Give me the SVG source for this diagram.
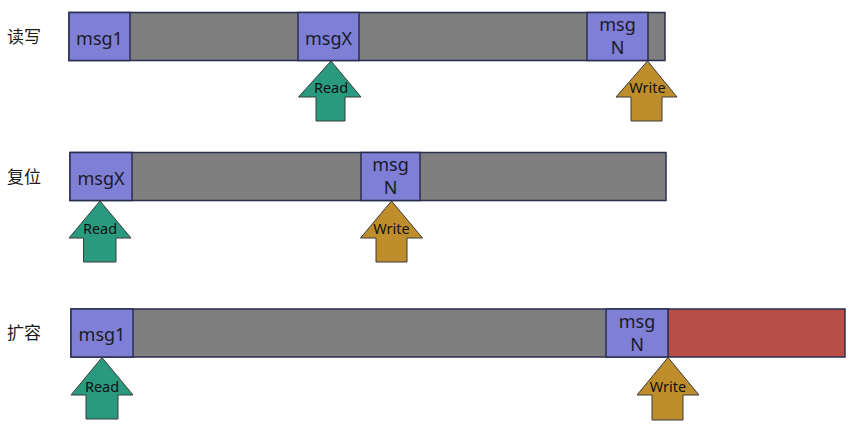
<svg xmlns="http://www.w3.org/2000/svg" width="851" height="426" viewBox="0 0 851 426">
<style>
.bg{fill:#ffffff}
.slot{stroke:#2b2f4f;stroke-width:1.5}
.msg{fill:#7f7fd6}
.gray{fill:#7f7f7f}
.red{fill:#b84e48}
.t{font-family:"Noto Sans","Open Sans","Liberation Sans",sans-serif;font-size:18px;fill:#1a1a2a;text-anchor:middle}
.lbl{font-family:"Noto Sans CJK SC","Noto Sans",sans-serif;font-size:17px;fill:#1a1a1a}
.arrow{stroke:#3a3a3a;stroke-width:1}
.read{fill:#2a9a7f}
.write{fill:#bf8e2c}
.at{font-family:"Noto Sans","Open Sans","Liberation Sans",sans-serif;font-size:14.5px;fill:#111111;text-anchor:middle}
</style>
<rect class="bg" x="0" y="0" width="851" height="426"/>

<text class="lbl" x="7" y="43">读写</text>
<text class="lbl" x="7" y="183">复位</text>
<text class="lbl" x="7" y="339">扩容</text>

<g id="row1">
  <rect class="slot gray" x="69" y="12.5" width="596" height="48"/>
  <g id="r1-msg1"><rect class="slot msg" x="69" y="12.5" width="61" height="48"/><text class="t" x="99.5" y="44.5">msg1</text></g>
  <g id="r1-msgX"><rect class="slot msg" x="298" y="12.5" width="61" height="48"/><text class="t" x="328.5" y="44.5">msgX</text></g>
  <g id="r1-msgN"><rect class="slot msg" x="587" y="12.5" width="61" height="48"/><text class="t" x="617.5" y="31">msg</text><text class="t" x="617.5" y="54">N</text></g>
</g>

<g id="row2">
  <rect class="slot gray" x="70" y="152.5" width="596" height="48"/>
  <g id="r2-msgX"><rect class="slot msg" x="70" y="152.5" width="62" height="48"/><text class="t" x="101" y="184.5">msgX</text></g>
  <g id="r2-msgN"><rect class="slot msg" x="361" y="152.5" width="59" height="48"/><text class="t" x="390.5" y="171">msg</text><text class="t" x="390.5" y="194">N</text></g>
</g>

<g id="row3">
  <rect class="slot gray" x="71" y="309" width="597" height="48"/>
  <rect class="slot red" x="668" y="309" width="177" height="48"/>
  <g id="r3-msg1"><rect class="slot msg" x="71" y="309" width="62" height="48"/><text class="t" x="102" y="341">msg1</text></g>
  <g id="r3-msgN"><rect class="slot msg" x="606" y="309" width="62" height="48"/><text class="t" x="637" y="328">msg</text><text class="t" x="637" y="350.5">N</text></g>
</g>

<g id="arrows">
  <g id="a1-read"><polygon class="arrow read" points="331,61 361,97 345,97 345,121 316,121 316,97 298.5,97"/><text class="at" x="331" y="93">Read</text></g>
  <g id="a1-write"><polygon class="arrow write" points="647.5,61 677,97 662,97 662,121 631,121 631,97 616,97"/><text class="at" x="647.5" y="93">Write</text></g>
  <g id="a2-read"><polygon class="arrow read" points="100,201 131,238 116,238 116,262 83.5,262 83.5,238 69,238"/><text class="at" x="100" y="234">Read</text></g>
  <g id="a2-write"><polygon class="arrow write" points="391.5,201 422.5,238 407,238 407,262 376,262 376,238 360.5,238"/><text class="at" x="391.5" y="234">Write</text></g>
  <g id="a3-read"><polygon class="arrow read" points="102,357.5 133,395 118,395 118,419 86,419 86,395 71,395"/><text class="at" x="102" y="392">Read</text></g>
  <g id="a3-write"><polygon class="arrow write" points="668,357.5 699,395 683,395 683,420 652,420 652,395 637,395"/><text class="at" x="668" y="392">Write</text></g>
</g>
</svg>
